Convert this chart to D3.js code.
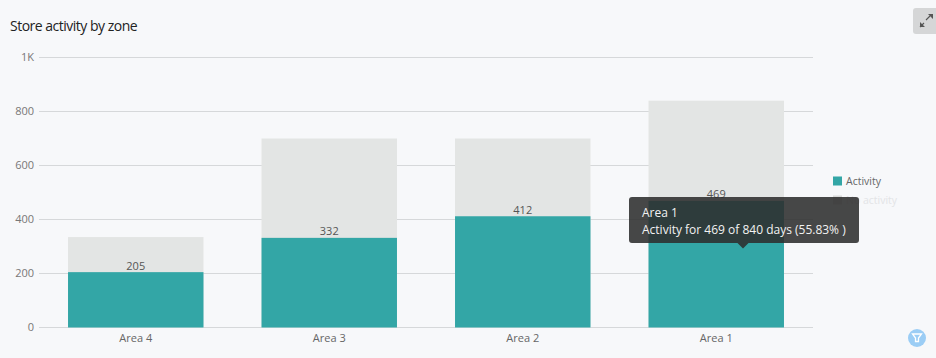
<!DOCTYPE html>
<html><head><meta charset="utf-8">
<script src="https://cdn.jsdelivr.net/npm/d3@7/dist/d3.min.js"></script>
<style>
html,body{margin:0;padding:0;background:#f7f8fa;overflow:hidden}
svg{display:block;font-family:"Open Sans",sans-serif}
</style></head><body>
<svg id="c" width="936" height="358"></svg>
<script>
const categories=["Area 4","Area 3","Area 2","Area 1"];
const activity=[205,332,412,469];
const totals=[335,700,700,840];
const yTicks=[0,200,400,600,800,1000];
const legendLabels=["Activity","No activity"];
const chartTitle="Store activity by zone";
const tipTitle="Area 1";
const tipBody="Activity for 469 of 840 days (55.83% )";

const svg=d3.select("#c");
const x=d3.scaleBand().domain(categories).range([39,813]).paddingInner(0.3).paddingOuter(0.15);
const y=d3.scaleLinear().domain([0,1000]).range([327.5,57.5]);
const fmt=v=>v>=1000?(v/1000)+"K":String(v);

svg.append("text").attr("x",10).attr("y",31).attr("font-size",14).attr("letter-spacing","-0.5").attr("fill","#222").text(chartTitle);

const yAxis=svg.append("g").attr("transform","translate(39,0)")
  .call(d3.axisLeft(y).tickValues(yTicks).tickFormat(fmt).tickSize(-774).tickPadding(5).offset(0));
yAxis.select(".domain").remove();
yAxis.selectAll("line").attr("stroke","#d6d8da").attr("stroke-width",1);
yAxis.selectAll("text").attr("font-family","'Open Sans',sans-serif").attr("font-size",11).attr("fill","#777");

const xAxis=svg.append("g").attr("transform","translate(0,327.5)")
  .call(d3.axisBottom(x).tickSize(0).tickPadding(7).offset(0));
xAxis.select(".domain").remove();
xAxis.selectAll("text").attr("font-family","'Open Sans',sans-serif").attr("font-size",11).attr("fill","#666");

svg.selectAll(".tot").data(categories).join("rect").attr("class","tot")
  .attr("x",d=>x(d)).attr("width",x.bandwidth())
  .attr("y",(d,i)=>y(totals[i])).attr("height",(d,i)=>y(0)-y(totals[i]))
  .attr("fill","#e3e5e4");
svg.selectAll(".act").data(categories).join("rect").attr("class","act")
  .attr("x",d=>x(d)).attr("width",x.bandwidth())
  .attr("y",(d,i)=>y(activity[i])).attr("height",(d,i)=>y(0)-y(activity[i]))
  .attr("fill","#33a6a6");
svg.selectAll(".lab").data(categories).join("text").attr("class","lab")
  .attr("x",d=>x(d)+x.bandwidth()/2).attr("y",(d,i)=>y(activity[i])-2.5)
  .attr("text-anchor","middle").attr("font-size",11).attr("fill","#555")
  .text((d,i)=>activity[i]);

const legendColors=["#33a6a6","#d9dad9"];
const legendText=["#666","#e3e4e6"];
legendLabels.forEach((t,i)=>{
  const yy=181+i*19;
  svg.append("rect").attr("x",833).attr("y",yy-4.5).attr("width",9).attr("height",9).attr("fill",legendColors[i]);
  svg.append("text").attr("x",846).attr("y",yy+4).attr("font-size",10.5).attr("fill",legendText[i]).text(t);
});

// tooltip
const tip=svg.append("g");
tip.append("path").attr("fill","rgba(45,45,45,0.88)")
  .attr("d",(()=>{const l=629,r=859,t=197,b=243,R=3,ax=743,p=d3.path();
    p.moveTo(l+R,t);p.lineTo(r-R,t);p.quadraticCurveTo(r,t,r,t+R);p.lineTo(r,b-R);p.quadraticCurveTo(r,b,r-R,b);
    p.lineTo(ax+5.5,b);p.lineTo(ax,b+5.5);p.lineTo(ax-5.5,b);p.lineTo(l+R,b);p.quadraticCurveTo(l,b,l,b-R);
    p.lineTo(l,t+R);p.quadraticCurveTo(l,t,l+R,t);p.closePath();return p.toString();})());
tip.append("text").attr("x",642).attr("y",217).attr("font-size",12).attr("fill","#f2f2f2").text(tipTitle);
tip.append("text").attr("x",642).attr("y",234).attr("font-size",12).attr("fill","#f2f2f2").text(tipBody);

// expand button
const btn=svg.append("g");
btn.append("path").attr("fill","#d5d6d7").attr("d","M936,8H916a3,3 0 0 0 -3,3V31a3,3 0 0 0 3,3H936Z");
btn.append("path").attr("fill","none").attr("stroke","#555").attr("stroke-width",1.1)
  .attr("d","M926,20L930,16M920,27L924,23");
btn.append("path").attr("fill","#555").attr("d","M928,14H933V19ZM920,22V27H925Z");

// filter button
const f=svg.append("g");
f.append("circle").attr("cx",917).attr("cy",338).attr("r",9).attr("fill","#9bcdf5");
f.append("path").attr("fill","none").attr("stroke","#fff").attr("stroke-width",1.3)
  .attr("d","M912.5,334H921.5L918.5,338V341.5H915.5V338Z");
</script>
</body></html>
